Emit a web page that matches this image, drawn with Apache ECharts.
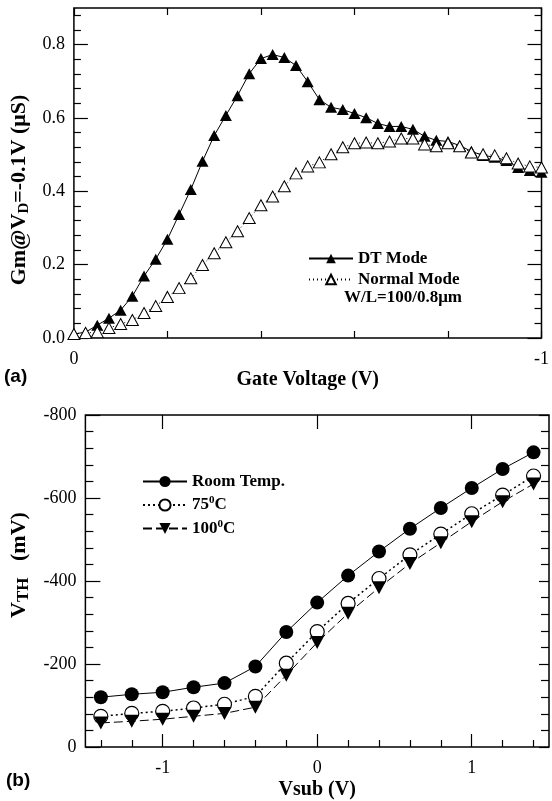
<!DOCTYPE html>
<html>
<head>
<meta charset="utf-8">
<script src="https://cdn.jsdelivr.net/npm/echarts@6/dist/echarts.min.js"></script>
<style>
  html, body { margin: 0; padding: 0; background: #fff; }
  #chart { width: 552px; height: 801px; }
</style>
</head>
<body>
<div id="chart"></div>
<script>
// panel (a): transconductance vs gate voltage
const gateVoltage = [0, -0.025, -0.05, -0.075, -0.1, -0.125, -0.15, -0.175, -0.2, -0.225,
  -0.25, -0.275, -0.3, -0.325, -0.35, -0.375, -0.4, -0.425, -0.45, -0.475,
  -0.5, -0.525, -0.55, -0.575, -0.6, -0.625, -0.65, -0.675, -0.7, -0.725,
  -0.75, -0.775, -0.8, -0.825, -0.85, -0.875, -0.9, -0.925, -0.95, -0.975, -1];
const dtMode = [0.011, 0.016, 0.035, 0.054, 0.076, 0.114, 0.169, 0.215, 0.269, 0.337,
  0.405, 0.482, 0.552, 0.607, 0.661, 0.721, 0.762, 0.773, 0.765, 0.743,
  0.699, 0.650, 0.629, 0.623, 0.612, 0.601, 0.585, 0.577, 0.577, 0.569,
  0.550, 0.539, 0.536, 0.525, 0.509, 0.498, 0.493, 0.484, 0.465, 0.457, 0.452];
const normalMode = [0.011, 0.014, 0.016, 0.027, 0.038, 0.049, 0.068, 0.087, 0.112, 0.136,
  0.163, 0.199, 0.231, 0.261, 0.291, 0.327, 0.362, 0.386, 0.414, 0.449,
  0.468, 0.479, 0.501, 0.520, 0.531, 0.533, 0.531, 0.536, 0.544, 0.544,
  0.528, 0.523, 0.531, 0.523, 0.506, 0.501, 0.498, 0.490, 0.476, 0.468, 0.465];
const gateTicks = [0, -0.2, -0.4, -0.6, -0.8, -1];
const gateLabels = [0, -1];
const gmMajorTicks = [0, 0.2, 0.4, 0.6, 0.8];
const gmMinorTicks = [0.04, 0.08, 0.12, 0.16, 0.24, 0.28, 0.32, 0.36, 0.44, 0.48,
  0.52, 0.56, 0.64, 0.68, 0.72, 0.76, 0.84, 0.88];

// panel (b): threshold voltage vs substrate voltage
const vsub = [-1.4, -1.2, -1.0, -0.8, -0.6, -0.4, -0.2, 0, 0.2, 0.4, 0.6, 0.8, 1.0, 1.2, 1.4];
const roomTemp = [-120, -127, -132, -144, -154, -194, -277, -348, -413, -471, -526, -576, -624, -670, -710];
const temp75 = [-74, -81, -86, -94, -103, -122, -202, -278, -346, -406, -463, -513, -562, -607, -653];
const temp100 = [-58, -62, -67, -74, -81, -96, -173, -252, -322, -384, -442, -492, -543, -591, -634];
const vsubMajorTicks = [-1, 0, 1];
const vsubMinorTicks = [-1.4, -1.2, -0.8, -0.6, -0.4, -0.2, 0.2, 0.4, 0.6, 0.8, 1.2, 1.4];
const vthMajorTicks = [0, -200, -400, -600, -800];
const vthMinorTicks = [-40, -80, -120, -160, -240, -280, -320, -360, -440, -480,
  -520, -560, -640, -680, -720, -760];

const serif = 'Liberation Serif';
const black = '#000';

const zip = (xs, ys) => xs.map((x, i) => [x, ys[i]]);

// an axis that only draws inward ticks at the given values
function tickAxis(base, values, len, labels) {
  return Object.assign({
    type: 'value',
    axisLine: { show: false, onZero: false },
    splitLine: { show: false },
    axisTick: { show: true, inside: true, length: len, customValues: values,
      lineStyle: { color: black, width: 1.2 } },
    axisLabel: labels || { show: false }
  }, base);
}

const tickLabel = (extra) => Object.assign({
  show: true, color: black, fontFamily: serif, fontSize: 18
}, extra);

const titleStyle = { fontFamily: serif, fontWeight: 'bold', fontSize: 20, color: black };

const chart = echarts.init(document.getElementById('chart'), null, { renderer: 'canvas' });

const option = {
  animation: false,
  backgroundColor: '#fff',
  grid: [
    { left: 71, top: 8, width: 475, height: 330, show: true, borderColor: black, borderWidth: 1.5, backgroundColor: 'transparent' },
    { left: 74, top: 415, width: 475, height: 332, show: true, borderColor: black, borderWidth: 1.5, backgroundColor: 'transparent' }
  ],
  xAxis: [
    tickAxis({ gridIndex: 0, position: 'bottom', min: -1, max: 0, inverse: true,
      name: 'Gate Voltage (V)', nameLocation: 'middle', nameGap: 32, nameTextStyle: titleStyle },
      gateTicks, 7,
      tickLabel({ margin: 12, customValues: gateLabels, formatter: v => (Math.abs(v) < 1e-9 ? '0' : String(v)) })),
    tickAxis({ gridIndex: 0, position: 'top', min: -1, max: 0, inverse: true }, gateTicks, 7),
    tickAxis({ gridIndex: 1, position: 'bottom', min: -1.5, max: 1.5,
      name: 'Vsub (V)', nameLocation: 'middle', nameGap: 33, nameTextStyle: titleStyle },
      vsubMajorTicks, 13,
      tickLabel({ margin: 12, customValues: vsubMajorTicks })),
    tickAxis({ gridIndex: 1, position: 'bottom', min: -1.5, max: 1.5 }, vsubMinorTicks, 7),
    tickAxis({ gridIndex: 1, position: 'top', min: -1.5, max: 1.5 }, vsubMajorTicks, 14)
  ],
  yAxis: [
    tickAxis({ gridIndex: 0, position: 'left', min: 0, max: 0.9,
      name: 'Gm@V{sub|D}=-0.1V (μS)', nameLocation: 'middle', nameRotate: 90, nameGap: 41,
      nameTextStyle: Object.assign({}, titleStyle, {
        fontSize: 22,
        padding: [0, 34, 0, 0],
        rich: { sub: { fontFamily: serif, fontWeight: 'bold', fontSize: 15, padding: [10, 0, 0, 0] } }
      }) },
      gmMajorTicks, 14,
      tickLabel({ margin: 9, customValues: gmMajorTicks, formatter: v => v.toFixed(1) })),
    tickAxis({ gridIndex: 0, position: 'left', min: 0, max: 0.9 }, gmMinorTicks, 7),
    tickAxis({ gridIndex: 0, position: 'right', min: 0, max: 0.9 }, gmMajorTicks, 14),
    tickAxis({ gridIndex: 0, position: 'right', min: 0, max: 0.9 }, gmMinorTicks, 7),
    tickAxis({ gridIndex: 1, position: 'left', min: -800, max: 0, inverse: true,
      name: 'V{sub|TH}   (mV)', nameLocation: 'middle', nameRotate: 90, nameGap: 46,
      nameTextStyle: Object.assign({}, titleStyle, {
        fontSize: 22,
        padding: [0, 0, 0, 32],
        rich: { sub: { fontFamily: serif, fontWeight: 'bold', fontSize: 17, padding: [10, 0, 0, 0] } }
      }) },
      vthMajorTicks, 15,
      tickLabel({ margin: 9, customValues: vthMajorTicks })),
    tickAxis({ gridIndex: 1, position: 'left', min: -800, max: 0, inverse: true }, vthMinorTicks, 8),
    tickAxis({ gridIndex: 1, position: 'right', min: -800, max: 0, inverse: true }, vthMajorTicks, 10),
    tickAxis({ gridIndex: 1, position: 'right', min: -800, max: 0, inverse: true }, vthMinorTicks, 8)
  ],
  legend: [
    {
      data: ['DT Mode', 'Normal Mode'],
      orient: 'vertical', left: 303, top: 245,
      itemWidth: 44, itemHeight: 12, itemGap: 4,
      textStyle: { fontFamily: serif, fontWeight: 'bold', fontSize: 17, color: black }
    },
    {
      data: ['Room Temp.', '75°C', '100°C'],
      orient: 'vertical', left: 137, top: 468,
      itemWidth: 44, itemHeight: 14, itemGap: 5,
      formatter: name => name.replace('°', '{sup|0}'),
      textStyle: {
        fontFamily: serif, fontWeight: 'bold', fontSize: 17, color: black,
        rich: { sup: { fontFamily: serif, fontWeight: 'bold', fontSize: 11, padding: [0, 0, 9, 0] } }
      }
    }
  ],
  graphic: [
    { type: 'text', left: 4, top: 367, style: { text: '(a)', font: 'bold 19px "Liberation Sans"', fill: black } },
    { type: 'text', left: 6, top: 771, style: { text: '(b)', font: 'bold 19px "Liberation Sans"', fill: black } },
    { type: 'text', left: 344, top: 289, style: { text: 'W/L=100/0.8μm', font: 'bold 17px "Liberation Serif"', fill: black } }
  ],
  series: [
    {
      name: 'DT Mode', type: 'line', xAxisIndex: 0, yAxisIndex: 0, clip: false,
      data: zip(gateVoltage, dtMode),
      symbol: 'triangle', symbolSize: [12, 11],
      itemStyle: { color: black },
      lineStyle: { color: black, width: 1 }
    },
    {
      name: 'Normal Mode', type: 'line', xAxisIndex: 0, yAxisIndex: 0, clip: false,
      data: zip(gateVoltage, normalMode),
      symbol: 'triangle', symbolSize: [12, 11],
      itemStyle: { color: '#fff', borderColor: black, borderWidth: 1 },
      lineStyle: { color: black, width: 1, type: [1, 3] }
    },
    {
      name: 'Room Temp.', type: 'line', xAxisIndex: 2, yAxisIndex: 4, clip: false,
      data: zip(vsub, roomTemp),
      symbol: 'circle', symbolSize: 14,
      itemStyle: { color: black },
      lineStyle: { color: black, width: 1 }
    },
    {
      name: '75°C', type: 'line', xAxisIndex: 2, yAxisIndex: 4, clip: false,
      data: zip(vsub, temp75),
      symbol: 'circle', symbolSize: 14,
      itemStyle: { color: '#fff', borderColor: black, borderWidth: 1.2 },
      lineStyle: { color: black, width: 1.5, type: [2, 3] }
    },
    {
      name: '100°C', type: 'line', xAxisIndex: 2, yAxisIndex: 4, clip: false,
      data: zip(vsub, temp100),
      symbol: 'path://M0,0 L10,0 L5,9 Z', symbolSize: [14, 13],
      itemStyle: { color: black },
      lineStyle: { color: black, width: 1, type: [9, 4] }
    }
  ]
};

chart.setOption(option);
</script>
</body>
</html>
